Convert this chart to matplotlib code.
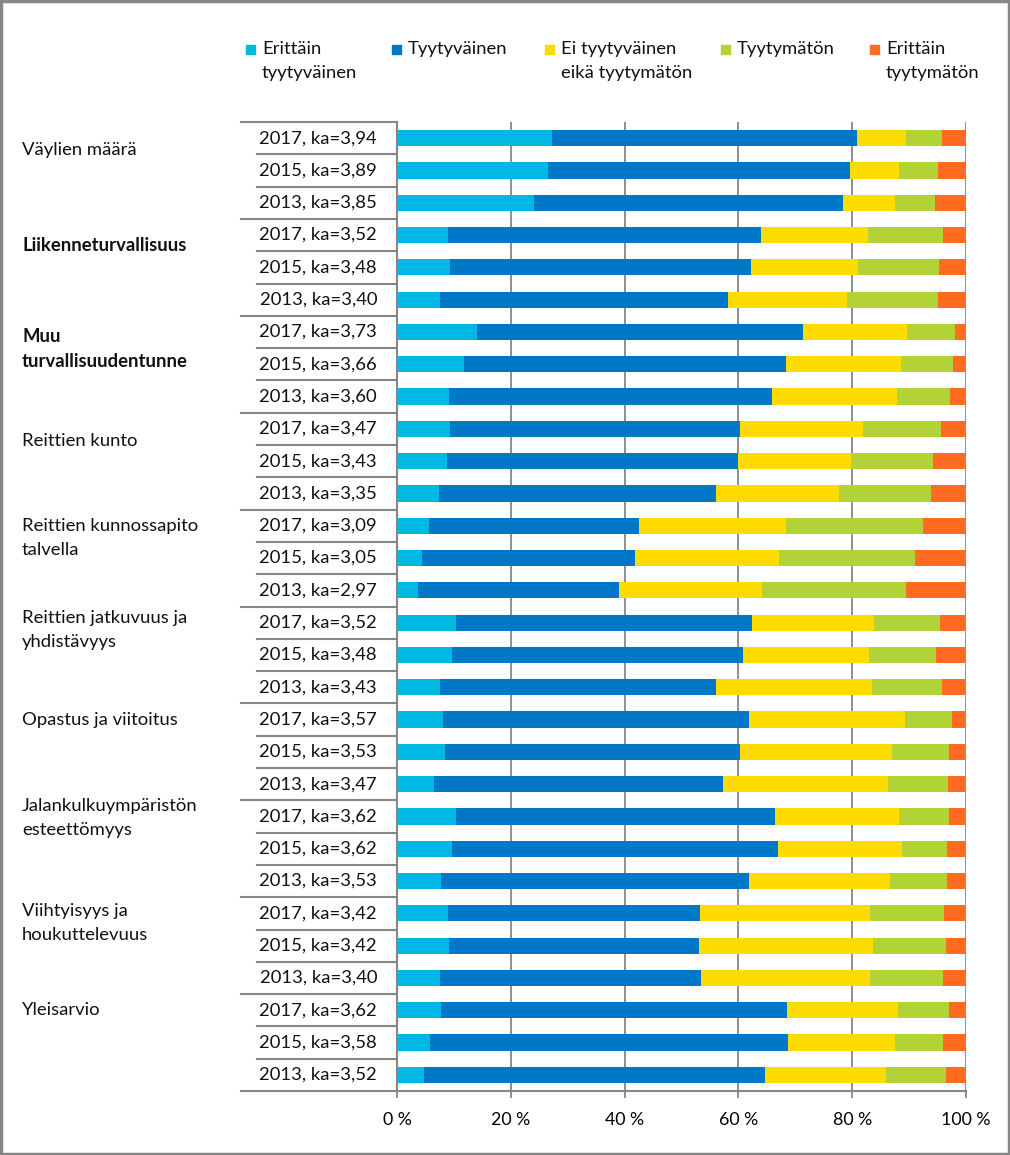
import matplotlib
matplotlib.use("Agg")
import matplotlib.pyplot as plt
from matplotlib.patches import Rectangle
from matplotlib.lines import Line2D

plt.rcParams['font.family'] = ['Lato', 'DejaVu Sans']

# ---------------- data ----------------
groups = ["Väylien määrä", "Liikenneturvallisuus", "Muu\nturvallisuudentunne",
          "Reittien kunto", "Reittien kunnossapito\ntalvella",
          "Reittien jatkuvuus ja\nyhdistävyys", "Opastus ja viitoitus",
          "Jalankulkuympäristön\nesteettömyys", "Viihtyisyys ja\nhoukuttelevuus",
          "Yleisarvio"]
group_bold = [False, True, True, False, False, False, False, False, False, False]
years = ["2017", "2015", "2013"]
ka = ["3,94", "3,89", "3,85", "3,52", "3,48", "3,40", "3,73", "3,66", "3,60",
      "3,47", "3,43", "3,35", "3,09", "3,05", "2,97", "3,52", "3,48", "3,43",
      "3,57", "3,53", "3,47", "3,62", "3,62", "3,53", "3,42", "3,42", "3,40",
      "3,62", "3,58", "3,52"]

series_names = ["Erittäin\ntyytyväinen", "Tyytyväinen", "Ei tyytyväinen\neikä tyytymätön",
                "Tyytymätön", "Erittäin\ntyytymätön"]

erittain_tyytyvainen = [27.3, 26.6, 24.1, 9.0, 9.3, 7.6, 14.0, 11.8, 9.2, 9.3, 8.7, 7.4,
                        5.7, 4.4, 3.7, 10.3, 9.7, 7.6, 8.1, 8.5, 6.5, 10.3, 9.7, 7.8,
                        9.0, 9.2, 7.6, 7.8, 5.8, 4.8]
tyytyvainen = [53.5, 53.1, 54.3, 55.0, 52.9, 50.6, 57.4, 56.5, 56.7, 51.0, 51.3, 48.7,
               36.9, 37.5, 35.4, 52.1, 51.1, 48.5, 53.8, 51.7, 50.8, 56.2, 57.2, 54.1,
               44.3, 43.8, 45.9, 60.8, 63.0, 59.9]
ei_kumpikaan = [8.6, 8.6, 9.2, 18.8, 18.8, 20.9, 18.3, 20.3, 21.9, 21.6, 19.8, 21.6,
                25.7, 25.3, 25.1, 21.5, 22.2, 27.4, 27.3, 26.8, 29.0, 21.8, 21.9, 24.8,
                29.9, 30.7, 29.7, 19.5, 18.8, 21.3]
tyytymaton = [6.4, 6.8, 7.0, 13.2, 14.3, 16.0, 8.4, 9.2, 9.4, 13.7, 14.4, 16.2,
              24.2, 23.9, 25.2, 11.6, 11.8, 12.3, 8.4, 10.1, 10.6, 8.8, 7.9, 9.9,
              13.0, 12.7, 12.8, 9.0, 8.4, 10.4]
erittain_tyytymaton = [4.2, 4.9, 5.4, 4.0, 4.7, 4.9, 1.9, 2.2, 2.8, 4.4, 5.8, 6.1,
                       7.5, 8.9, 10.6, 4.5, 5.2, 4.2, 2.4, 2.9, 3.1, 2.9, 3.3, 3.4,
                       3.8, 3.6, 4.0, 2.9, 4.0, 3.6]

series = [erittain_tyytyvainen, tyytyvainen, ei_kumpikaan, tyytymaton, erittain_tyytymaton]
colors = ["#00B8E4", "#0078C8", "#FFDC00", "#B2D235", "#FF6B21"]

# ---------------- layout ----------------
W, H = 1010, 1155
FS = 13.3
fig = plt.figure(figsize=(W / 100, H / 100), dpi=100)
ax = fig.add_axes([397 / W, 1 - 1091 / H, (966 - 397) / W, (1091 - 122) / H])

n = len(ka)
rows = list(range(n))
labels = [f"{years[i % 3]}, ka={ka[i]}" for i in range(n)]

grid_col = "#868686"
left = [0.0] * n
for vals, col in zip(series, colors):
    ax.barh(rows, [v / 100 for v in vals], left=left, height=0.5, color=col,
            edgecolor='none', zorder=3)
    left = [l + v / 100 for l, v in zip(left, vals)]

ax.set_xlim(0, 1)
ax.set_ylim(n - 0.5, -0.5)
ax.set_xticks([0, 0.2, 0.4, 0.6, 0.8, 1.0])
ax.set_xticklabels(["0 %", "20 %", "40 %", "60 %", "80 %", "100 %"], fontsize=12.8)
ax.tick_params(axis='x', length=5, color=grid_col, width=1.3, pad=10)
ax.set_yticks([])
ax.xaxis.grid(True, color=grid_col, linewidth=1.3, zorder=0)
for s in ['top', 'right']:
    ax.spines[s].set_visible(False)
for s in ['left', 'bottom']:
    ax.spines[s].set_color(grid_col)
    ax.spines[s].set_linewidth(1.5)

# row labels and separators
ax_w_px = 966 - 397
x_lab = (377 - 397) / ax_w_px
x_inner = (257 - 397) / ax_w_px
x_outer = (241 - 397) / ax_w_px
trans = ax.get_yaxis_transform()
for i, lab in enumerate(labels):
    ax.text(x_lab, i, lab, transform=trans, ha='right', va='center',
            fontsize=FS, color='#111111')
for k in range(n + 1):
    x0 = x_outer if k % 3 == 0 else x_inner
    ax.add_line(Line2D([x0, 0], [k - 0.5, k - 0.5], transform=trans,
                       color=grid_col, linewidth=1.5, clip_on=False))

# group labels (y = centre of first text line, in row units)
grp_offsets = [0.28, 0.22, 0.04, 0.29, -0.08, -0.23, -0.07, -0.41, -0.16, -0.07]
for g, (name, bold, off) in enumerate(zip(groups, group_bold, grp_offsets)):
    ax.text((22 - 397) / ax_w_px, 3 * g + off - 0.17, name, transform=trans,
            ha='left', va='top', fontsize=FS,
            fontweight='bold' if bold else 'normal', color='#111111',
            linespacing=1.62)

# legend (manual)
leg_marker_x = [250, 396, 549, 725, 874]
for name, col, mx in zip(series_names, colors, leg_marker_x):
    fig.patches.append(Rectangle(((mx - 4) / W, 1 - 54 / H), 9 / W, 9 / H,
                                 transform=fig.transFigure, color=col))
    fig.text((mx + 12) / W, 1 - 41 / H, name, ha='left', va='top',
             fontsize=FS, color='#111111', linespacing=1.62)

# outer frame
fig.patches.append(Rectangle((0.001, 0.001), 0.998, 0.998, transform=fig.transFigure,
                             fill=False, edgecolor=grid_col, linewidth=2.5))

fig.savefig("out.png", dpi=100)
